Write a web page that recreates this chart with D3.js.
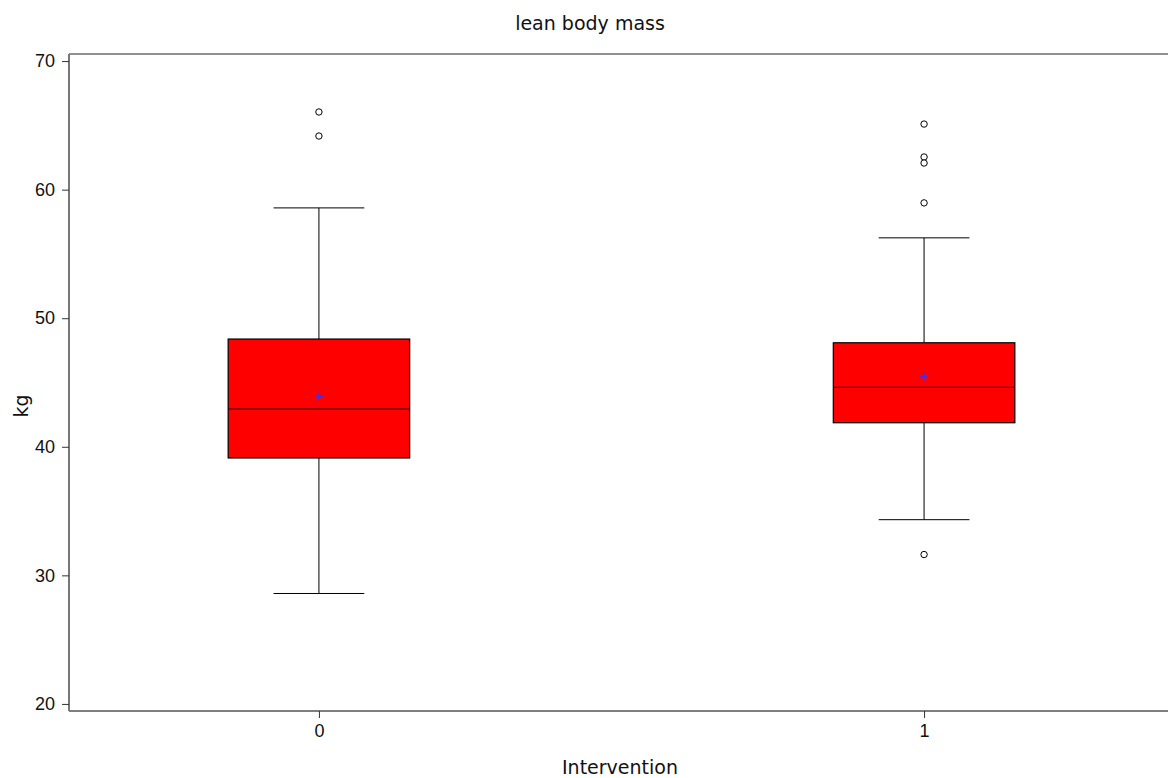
<!DOCTYPE html>
<html><head><meta charset="utf-8">
<script src="https://cdn.jsdelivr.net/npm/d3@7"></script>
<style>body{margin:0;background:#fff}</style>
</head><body>
<svg id="chart" width="1168" height="778"></svg>
<script>
const categories = ["0", "1"];
const q1 = [39.13, 41.87];
const medians = [42.94, 44.62];
const q3 = [48.38, 48.09];
const means = [43.92, 45.45];
const whiskerLow = [28.59, 34.33];
const whiskerHigh = [58.58, 56.25];
const outliers = [[66.04, 64.17], [65.1, 62.54, 62.07, 58.97, 31.62]];
const yTicks = [20, 30, 40, 50, 60, 70];

(function () {
const font = "'DejaVu Sans',sans-serif";
const tickFont = "'Liberation Sans',sans-serif";
const svg = d3.select("#chart");
const pLeft = 69, pRight = 1174, pTop = 54, pBottom = 711;
const x = d3.scaleLinear().domain([-0.413, 1.413]).range([pLeft, pRight]);
const y = d3.scaleLinear().domain([19.45, 70.55]).range([pBottom, pTop]);
const boxW = 0.3, capW = 0.15;

// frame
svg.append("line").attr("x1", pLeft).attr("x2", 1168).attr("y1", pTop).attr("y2", pTop).attr("stroke", "#222").attr("stroke-width", 1.2);
svg.append("line").attr("x1", pLeft).attr("x2", 1168).attr("y1", pBottom).attr("y2", pBottom).attr("stroke", "#000").attr("stroke-width", 1.2);

// y axis
const ya = svg.append("g").attr("transform", `translate(${pLeft},0)`)
  .call(d3.axisLeft(y).tickValues(yTicks).tickSize(7).tickPadding(7));
ya.select(".domain").attr("stroke", "#777").attr("stroke-width", 2).attr("d", `M0,${pTop}V${pBottom}`);
ya.selectAll(".tick line").attr("stroke", "#333");
ya.selectAll("text").attr("font-family", tickFont).attr("font-size", 18).attr("fill", "#111");

// x axis
const xa = svg.append("g").attr("transform", `translate(0,${pBottom})`)
  .call(d3.axisBottom(x).tickValues([0, 1]).tickFormat((d, i) => categories[i]).tickSize(7).tickPadding(6));
xa.select(".domain").remove();
xa.selectAll(".tick line").attr("stroke", "#333");
xa.selectAll("text").attr("font-family", tickFont).attr("font-size", 18).attr("fill", "#111");

// boxes
categories.forEach((c, i) => {
  const g = svg.append("g");
  const cx = x(i);
  g.append("line").attr("x1", cx).attr("x2", cx).attr("y1", y(whiskerHigh[i])).attr("y2", y(q3[i])).attr("stroke", "#000");
  g.append("line").attr("x1", cx).attr("x2", cx).attr("y1", y(q1[i])).attr("y2", y(whiskerLow[i])).attr("stroke", "#000");
  [whiskerHigh[i], whiskerLow[i]].forEach(v => {
    g.append("line").attr("x1", x(i - capW / 2)).attr("x2", x(i + capW / 2)).attr("y1", y(v)).attr("y2", y(v)).attr("stroke", "#000");
  });
  g.append("rect").attr("x", x(i - boxW / 2)).attr("width", x(i + boxW / 2) - x(i - boxW / 2))
    .attr("y", y(q3[i])).attr("height", y(q1[i]) - y(q3[i]))
    .attr("fill", "#ff0000").attr("stroke", "#000").attr("stroke-width", 1.2);
  g.append("line").attr("x1", x(i - boxW / 2)).attr("x2", x(i + boxW / 2)).attr("y1", y(medians[i])).attr("y2", y(medians[i])).attr("stroke", "#300").attr("stroke-width", 1.2);
  const my = y(means[i]);
  g.append("path").attr("d", `M${cx - 4},${my}H${cx + 4}M${cx},${my - 4}V${my + 4}`).attr("stroke", "#3333ff").attr("stroke-width", 1.2);
  outliers[i].forEach(v => {
    g.append("circle").attr("cx", cx).attr("cy", y(v)).attr("r", 3.2).attr("fill", "#fff").attr("stroke", "#000").attr("stroke-width", 1);
  });
});

// titles
svg.append("text").attr("x", 590).attr("y", 30).attr("text-anchor", "middle").attr("font-family", font).attr("font-size", 19).attr("fill", "#111").text("lean body mass");
svg.append("text").attr("x", 620).attr("y", 774).attr("text-anchor", "middle").attr("font-family", font).attr("font-size", 19).attr("fill", "#111").text("Intervention");
svg.append("text").attr("transform", "translate(28,406) rotate(-90)").attr("text-anchor", "middle").attr("font-family", font).attr("font-size", 19).attr("fill", "#111").text("kg");
})();
</script>
</body></html>
